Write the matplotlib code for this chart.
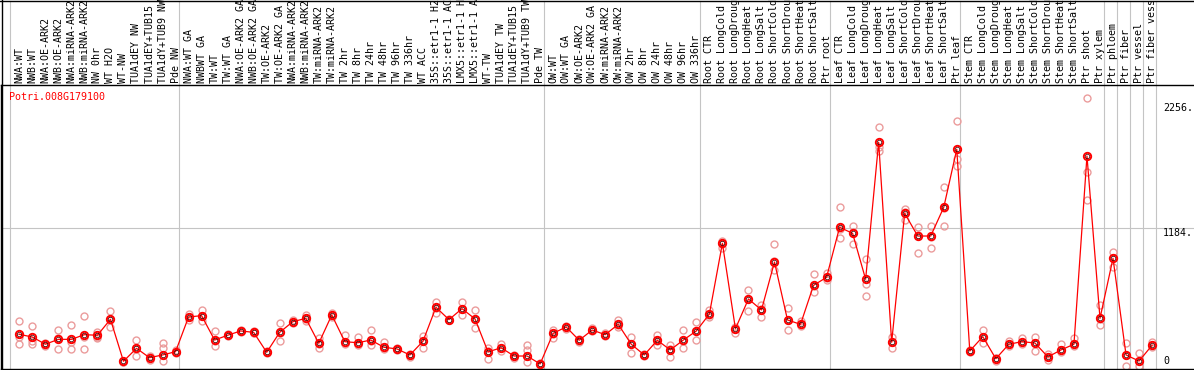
import matplotlib
matplotlib.use('Agg')
import matplotlib.pyplot as plt
import matplotlib.transforms as mtransforms
from matplotlib.lines import Line2D

# sample names, in plot order
samples = [
    'NWA:WT', 'NWB:WT', 'NWA:OE-ARK2', 'NWB:OE-ARK2', 'NWA:miRNA-ARK2', 'NWB:miRNA-ARK2',
    'NW 0hr', 'WT H2O', 'WT-NW', 'TUA1dEY NW', 'TUA1dEY+TUB15 NW', 'TUA1dY+TUB9 NW', 'Pde NW',
    'NWA:WT GA', 'NWBWT GA', 'TW:WT', 'TW:WT GA', 'NWA:OE-ARK2 GA', 'NWB:OE-ARK2 GA',
    'TW:OE-ARK2', 'TW:OE-ARK2 GA', 'NWA:miRNA-ARK2', 'NWB:miRNA-ARK2', 'TW:miRNA-ARK2',
    'TW:miRNA-ARK2', 'TW 2hr', 'TW 8hr', 'TW 24hr', 'TW 48hr', 'TW 96hr', 'TW 336hr', 'WT ACC',
    '35S::etr1-1 H2O', '35S::etr1-1 ACC', 'LMX5::etr1-1 H2O', 'LMX5::etr1-1 ACC', 'WT-TW',
    'TUA1dEY TW', 'TUA1dEY+TUB15 TW', 'TUA1dY+TUB9 TW', 'Pde TW',
    'OW:WT', 'OW:WT GA', 'OW:OE-ARK2', 'OW:OE-ARK2 GA', 'OW:miRNA-ARK2', 'OW:miRNA-ARK2',
    'OW 2hr', 'OW 8hr', 'OW 24hr', 'OW 48hr', 'OW 96hr', 'OW 336hr',
    'Root CTR', 'Root LongCold', 'Root LongDrought', 'Root LongHeat', 'Root LongSalt',
    'Root ShortCold', 'Root ShortDrought', 'Root ShortHeat', 'Root ShortSalt', 'Ptr root',
    'Leaf CTR', 'Leaf LongCold', 'Leaf LongDrought', 'Leaf LongHeat', 'Leaf LongSalt',
    'Leaf ShortCold', 'Leaf ShortDrought', 'Leaf ShortHeat', 'Leaf ShortSalt', 'Ptr leaf',
    'Stem CTR', 'Stem LongCold', 'Stem LongDrought', 'Stem LongHeat', 'Stem LongSalt',
    'Stem ShortCold', 'Stem ShortDrought', 'Stem ShortHeat', 'Stem ShortSalt', 'Ptr shoot',
    'Ptr xylem', 'Ptr phloem', 'Ptr fiber', 'Ptr vessel', 'Ptr fiber vessel',
]

# index where each group of samples starts
group_starts = [0, 13, 41, 53, 63, 73, 84, 85, 86, 87, 88]

mean_expr = [
    275, 252, 190, 232, 232, 272, 267, 404, 44, 155, 75, 98, 126,
    424, 435, 226, 267, 304, 292, 121, 292, 383, 412, 198, 441, 212, 203, 226, 164, 150,
    98, 215, 507, 401, 495, 407, 124, 160, 89, 89, 21,
    284, 338, 224, 312, 272, 361, 190, 98, 224, 141, 226, 304,
    449, 1056, 323, 578, 484, 895, 398, 361, 695, 764,
    1193, 1141, 747, 1922, 207, 1313, 1118, 1118, 1364, 1862,
    132, 255, 66, 190, 212, 201, 81, 141, 190, 1804, 412,
    927, 98, 46, 181,
]
rep_hi = [
    389, 344, 200, 312, 352, 430, 298, 475, 50, 226, 85, 198, 140,
    449, 484, 301, 275, 312, 300, 130, 370, 400, 441, 241, 461, 269, 255, 312, 212, 160,
    110, 261, 552, 410, 555, 484, 160, 190, 100, 184, 30,
    310, 350, 235, 330, 290, 398, 250, 105, 269, 181, 312, 383,
    484, 1078, 340, 655, 527, 1050, 498, 389, 792, 804,
    1364, 1204, 918, 2051, 255, 1352, 1193, 1204, 1536, 2107,
    140, 312, 75, 215, 240, 250, 110, 192, 241, 2299, 527,
    984, 198, 112, 212,
]
rep_mid = [
    250, 222, 186, 240, 212, 250, 250, 400, 42, 150, 80, 155, 125,
    420, 430, 220, 265, 300, 290, 120, 290, 380, 410, 195, 440, 200, 195, 220, 160, 148,
    100, 220, 505, 400, 490, 410, 130, 158, 90, 141, 20,
    280, 335, 220, 310, 270, 355, 195, 100, 220, 150, 220, 300,
    445, 1050, 320, 580, 490, 900, 400, 355, 690, 760,
    1180, 1150, 704, 1880, 205, 1320, 1130, 1110, 1360, 1776,
    130, 250, 70, 190, 210, 200, 80, 140, 190, 1665, 410,
    930, 100, 50, 180,
]
rep_lo = [
    190, 190, 176, 147, 147, 147, 245, 335, 40, 89, 55, 44, 115,
    400, 392, 176, 260, 295, 285, 112, 215, 370, 390, 160, 425, 190, 185, 181, 150, 140,
    80, 155, 461, 395, 438, 327, 61, 130, 70, 40, 12,
    240, 320, 205, 300, 260, 340, 118, 90, 181, 83, 155, 226,
    420, 1013, 290, 475, 426, 827, 312, 350, 635, 740,
    1099, 1047, 601, 1850, 160, 1256, 970, 1013, 1204, 1719,
    125, 198, 45, 175, 195, 132, 55, 120, 175, 1427, 355,
    850, 0, 0, 165,
]

y_labels = [2256, 1184, 0]
gene_id = 'Potri.008G179100'

plt.rcParams['font.family'] = 'DejaVu Sans Mono'
fs = 7.2

fig = plt.figure(figsize=(11.94, 3.70), dpi=100)
ax = fig.add_axes([1 / 1194, 1 / 370, 1193 / 1194, 284 / 370])
ax.set_xlim(-1.406, 90.22)
ax.set_ylim(-22.3, 2413)
ax.set_xticks([])
ax.set_yticks([])
ax.spines['right'].set_visible(False)
for s in ['left', 'bottom', 'top']:
    ax.spines[s].set_color('black')
    ax.spines[s].set_linewidth(1.0)

x = list(range(len(samples)))

# group separators run up through the label area
for g in group_starts:
    ax.axvline(g - 0.72, ymin=0, ymax=368 / 284, color='#c4c4c4', lw=0.8,
               clip_on=False, zorder=0)
ax.axhline(y_labels[1], color='#c4c4c4', lw=0.8, zorder=0)

# replicates
for reps in [rep_hi, rep_mid, rep_lo]:
    ax.plot(x, reps, ls='none', marker='o', ms=5.0, mfc='none', mec='#eb9c9c', mew=1.0, zorder=2)

# means
ax.plot(x, mean_expr, color='red', lw=0.9, zorder=3)
ax.plot(x, mean_expr, ls='none', marker='o', ms=5.3, mfc='none', mec='red', mew=1.4, zorder=4)
ax.plot(x, mean_expr, ls='none', marker='o', ms=3.2, mfc='none', mec='#400000', mew=0.5, zorder=5)

# sample labels
trans = mtransforms.blended_transform_factory(ax.transData, fig.transFigure)
for i, name in enumerate(samples):
    ax.text(i, (370 - 83) / 370, name, rotation=90, ha='center', va='bottom',
            fontsize=fs, transform=trans, clip_on=False)

# value labels on the right
for v in y_labels:
    ax.text(87.84, v, f'{v}.' if v else '0', ha='left', va='top' if v else 'bottom',
            fontsize=fs, color='black')

fig.text(9 / 1194, 1 - 97 / 370, gene_id, color='red', fontsize=fs, va='center', ha='left')

# outer frame (top and left edge)
fig.add_artist(Line2D([0, 1], [1 - 0.5 / 370, 1 - 0.5 / 370], transform=fig.transFigure,
                      color='black', lw=1.0))
fig.add_artist(Line2D([1.5 / 1194, 1.5 / 1194], [0, 1], transform=fig.transFigure,
                      color='black', lw=1.0))

fig.savefig('out.png', dpi=100)
